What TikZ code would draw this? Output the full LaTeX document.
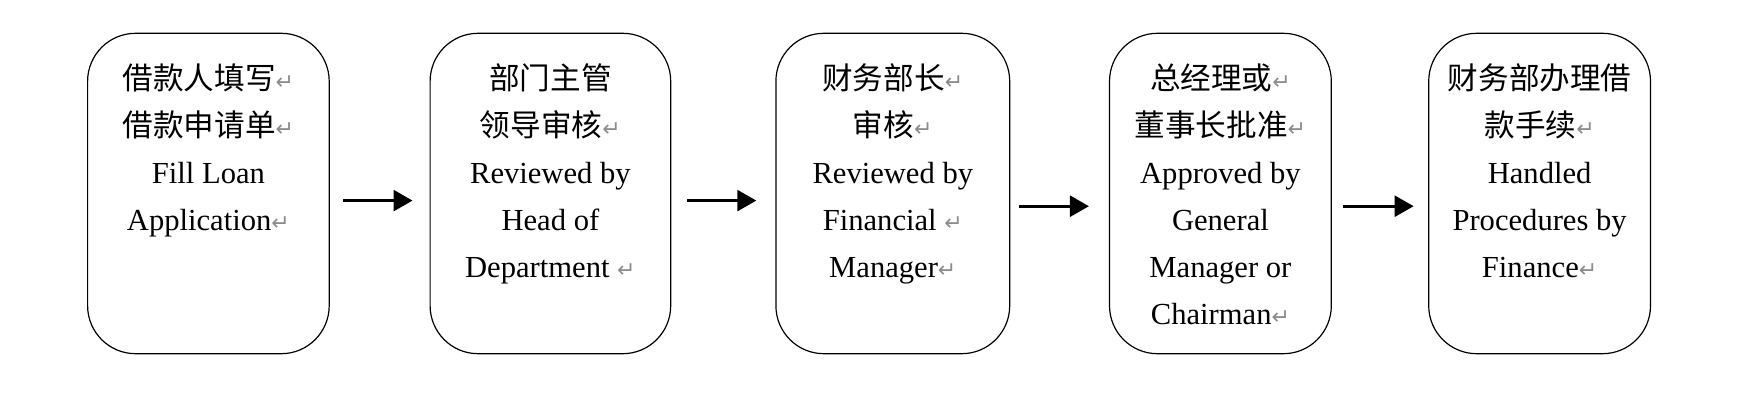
\documentclass[tikz,border=0pt]{standalone}
\usepackage{fontspec}
\setmainfont{Liberation Serif}
\newfontfamily\cjk{Noto Sans CJK SC}
\newfontfamily\markfont{DejaVu Sans}
\usetikzlibrary{arrows.meta,positioning}

\newcommand{\retmark}{{\markfont\fontsize{11}{11}\selectfont\color{black!45}↵}}
\def\textdrop{15.5pt}

\begin{document}
\begin{tikzpicture}[x=0.5pt,y=-0.5pt]
    \tikzstyle{stepbox}=[draw,rounded corners=24pt,line width=0.6pt,minimum height=160.2pt,inner sep=0pt]
    \tikzstyle{steptext}=[align=center,inner sep=0pt,font=\fontsize{15.3}{23.5}\selectfont]
    \tikzstyle{flow}=[-{Triangle[length=9.5pt,width=10.5pt]},line width=1.4pt]

    \useasboundingbox (0,0) rectangle (1738,411);

    % Process boxes
    \node[stepbox,minimum width=120.8pt] (b1) at (208.4,193.5) {};
    \node[stepbox,minimum width=120.3pt] (b2) at (550.4,193.5) {};
    \node[stepbox,minimum width=116.9pt] (b3) at (892.8,193.5) {};
    \node[stepbox,minimum width=110.9pt] (b4) at (1220.4,193.5) {};
    \node[stepbox,minimum width=110.9pt] (b5) at (1539.6,193.5) {};

    % Box texts
    \node[steptext,below=\textdrop of b1.north] (t1)
        {{\cjk 借款人填写}\retmark\\{\cjk 借款申请单}\retmark\\Fill Loan\\Application\retmark};
    \node[steptext,below=\textdrop of b2.north] (t2)
        {{\cjk 部门主管}\\{\cjk 领导审核}\retmark\\Reviewed by\\Head of\\Department \retmark};
    \node[steptext,below=\textdrop of b3.north] (t3)
        {{\cjk 财务部长}\retmark\\{\cjk 审核}\retmark\\Reviewed by\\Financial \retmark\\Manager\retmark};
    \node[steptext,below=\textdrop of b4.north] (t4)
        {{\cjk 总经理或}\retmark\\{\cjk 董事长批准}\retmark\\Approved by\\General\\Manager or\\Chairman\retmark};
    \node[steptext,below=\textdrop of b5.north] (t5)
        {{\cjk 财务部办理借}\\{\cjk 款手续}\retmark\\Handled\\Procedures by\\Finance\retmark};

    % Arrows between steps
    \draw[flow,shorten <=6.5pt,shorten >=8.5pt] ([yshift=-3.55pt]b1.east) -- ([yshift=-3.55pt]b2.west);
    \draw[flow,shorten <=7.75pt,shorten >=9.5pt] ([yshift=-3.55pt]b2.east) -- ([yshift=-3.55pt]b3.west);
    \draw[flow,shorten <=4.5pt,shorten >=10pt] ([yshift=-6.35pt]b3.east) -- ([yshift=-6.35pt]b4.west);
    \draw[flow,shorten <=5.5pt,shorten >=7.25pt] ([yshift=-6.35pt]b4.east) -- ([yshift=-6.35pt]b5.west);

\end{tikzpicture}
\end{document}
